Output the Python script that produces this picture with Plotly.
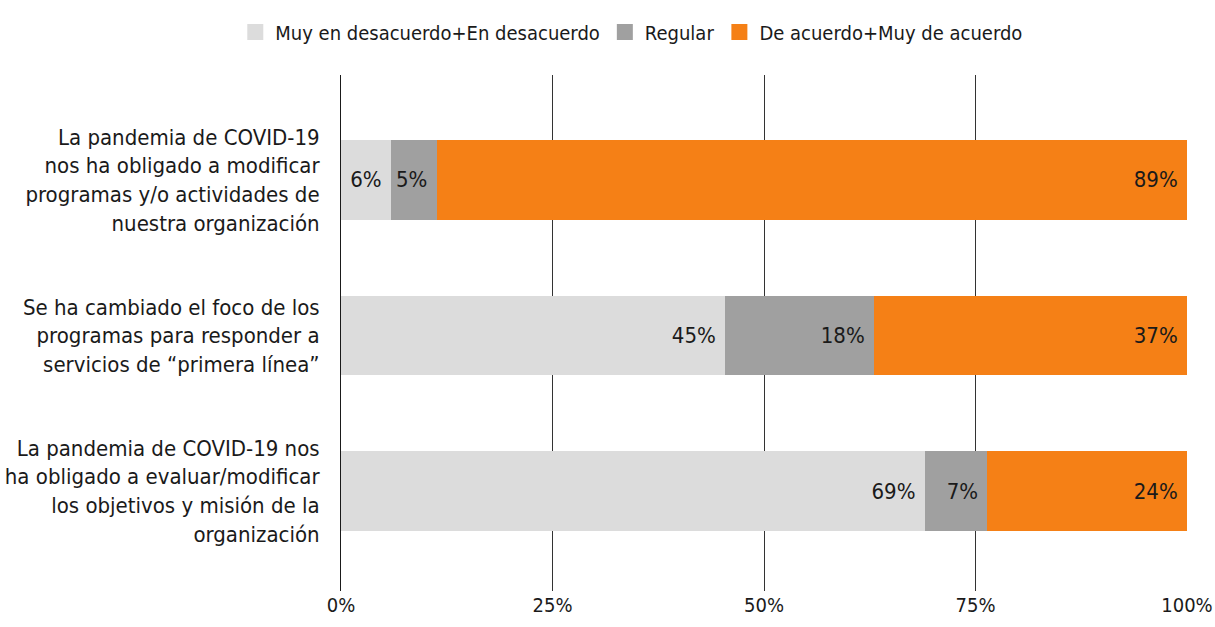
import plotly.graph_objects as go

categories = [
    "La pandemia de COVID-19<br>nos ha obligado a modificar<br>programas y/o actividades de<br>nuestra organización",
    "Se ha cambiado el foco de los<br>programas para responder a<br>servicios de “primera línea”",
    "La pandemia de COVID-19 nos<br>ha obligado a evaluar/modificar<br>los objetivos y misión de la<br>organización",
]
series_names = ["Muy en desacuerdo+En desacuerdo", "Regular", "De acuerdo+Muy de acuerdo"]
desacuerdo = [5.9, 45.4, 69.0]
regular = [5.4, 17.6, 7.4]
acuerdo = [88.7, 37.0, 23.6]
colors = ["#DCDCDC", "#A0A0A0", "#F58016"]
tick_vals = [0, 25, 50, 75, 100]
tick_text = ["0%", "25%", "50%", "75%", "100%"]

FONT = "DejaVu Sans Condensed, Liberation Sans Narrow, sans-serif"

fig = go.Figure()
for name, vals, col in zip(series_names, [desacuerdo, regular, acuerdo], colors):
    fig.add_trace(go.Bar(
        y=categories, x=vals, name=name, orientation="h",
        marker=dict(color=col, line=dict(width=0)),
        text=[f"{round(v)}%\u00a0" for v in vals],
        textposition="inside", insidetextanchor="end",
        textfont=dict(family=FONT, size=22, color="#1a1a1a"),
        constraintext="none", showlegend=False, legendgroup=name,
        hoverinfo="x+name",
    ))
# legend swatches (larger squares)
for name, col in zip(series_names, colors):
    fig.add_trace(go.Scatter(
        x=[None], y=[None], mode="markers", name=name, legendgroup=name,
        marker=dict(symbol="square", size=24, color=col), showlegend=True,
    ))

fig.update_layout(
    barmode="stack",
    bargap=0.486,
    width=1215, height=627,
    margin=dict(l=341, r=28, t=75, b=36, autoexpand=False),
    plot_bgcolor="white", paper_bgcolor="white",
    font=dict(family=FONT, size=20, color="#1a1a1a"),
    legend=dict(orientation="h", xref="container", x=0.52, xanchor="center",
                yref="container", y=0.98, yanchor="top",
                font=dict(size=20), traceorder="normal", itemsizing="trace"),
    xaxis=dict(range=[0, 100], tickvals=tick_vals, ticktext=tick_text,
               showgrid=True, gridcolor="#333333", gridwidth=1, automargin=False,
               zeroline=False, showline=False, ticks="",
               tickfont=dict(size=20)),
    yaxis=dict(autorange=False, range=[2.643, -0.675], showline=True, linecolor="#1a1a1a",
               linewidth=1, ticks="", tickfont=dict(size=22), ticklabelstandoff=16,
               automargin=False),
)
fig.write_html("out.html", post_script="document.body.style.margin='0';",
               config={"displayModeBar": False})
